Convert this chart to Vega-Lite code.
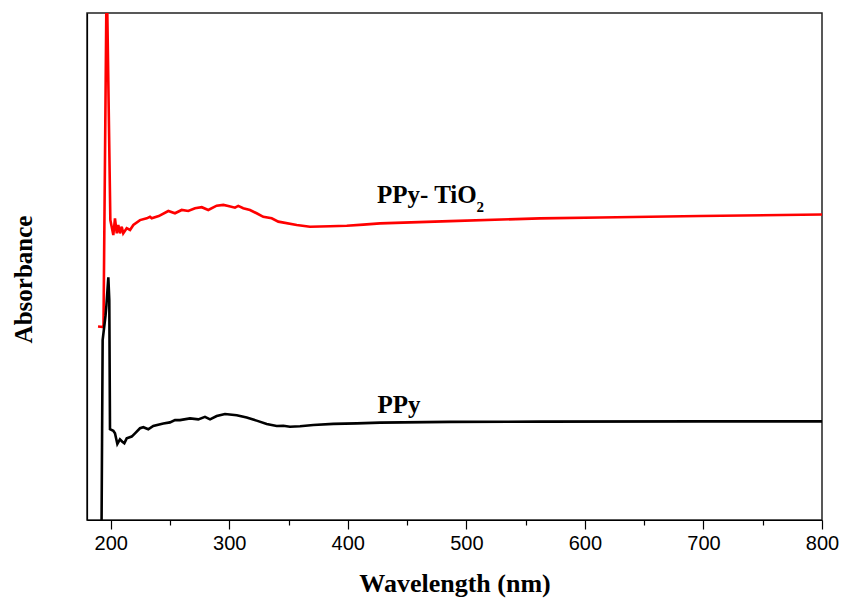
{
  "$schema": "https://vega.github.io/schema/vega-lite/v6.json",
  "width": 735,
  "height": 507,
  "autosize": {"type": "none"},
  "padding": {"left": 87, "top": 13, "right": 22, "bottom": 79},
  "background": "white",
  "config": {
    "view": {"stroke": "#222", "strokeWidth": 1.5},
    "axis": {"domainColor": "#000", "domainWidth": 1.2, "tickColor": "#000", "labelColor": "#000", "titleColor": "#000", "grid": false}
  },
  "datasets": {
    "spectra": [
      {"series": "PPy-TiO2", "wavelength": 189.3, "absorbance": 0.763},
      {"series": "PPy-TiO2", "wavelength": 193.9, "absorbance": 0.761},
      {"series": "PPy-TiO2", "wavelength": 196.6, "absorbance": 2.170},
      {"series": "PPy-TiO2", "wavelength": 199.7, "absorbance": 1.183},
      {"series": "PPy-TiO2", "wavelength": 202.2, "absorbance": 1.124},
      {"series": "PPy-TiO2", "wavelength": 203.6, "absorbance": 1.190},
      {"series": "PPy-TiO2", "wavelength": 205.1, "absorbance": 1.131},
      {"series": "PPy-TiO2", "wavelength": 206.4, "absorbance": 1.164},
      {"series": "PPy-TiO2", "wavelength": 207.8, "absorbance": 1.131},
      {"series": "PPy-TiO2", "wavelength": 209.3, "absorbance": 1.157},
      {"series": "PPy-TiO2", "wavelength": 210.6, "absorbance": 1.131},
      {"series": "PPy-TiO2", "wavelength": 213.5, "absorbance": 1.151},
      {"series": "PPy-TiO2", "wavelength": 216.3, "absorbance": 1.144},
      {"series": "PPy-TiO2", "wavelength": 219.1, "absorbance": 1.164},
      {"series": "PPy-TiO2", "wavelength": 224.7, "absorbance": 1.183},
      {"series": "PPy-TiO2", "wavelength": 230.4, "absorbance": 1.190},
      {"series": "PPy-TiO2", "wavelength": 233.1, "absorbance": 1.196},
      {"series": "PPy-TiO2", "wavelength": 234.6, "absorbance": 1.190},
      {"series": "PPy-TiO2", "wavelength": 240.5, "absorbance": 1.199},
      {"series": "PPy-TiO2", "wavelength": 248.6, "absorbance": 1.219},
      {"series": "PPy-TiO2", "wavelength": 254.2, "absorbance": 1.210},
      {"series": "PPy-TiO2", "wavelength": 259.9, "absorbance": 1.223},
      {"series": "PPy-TiO2", "wavelength": 265.4, "absorbance": 1.219},
      {"series": "PPy-TiO2", "wavelength": 271.1, "absorbance": 1.230},
      {"series": "PPy-TiO2", "wavelength": 276.8, "absorbance": 1.234},
      {"series": "PPy-TiO2", "wavelength": 282.3, "absorbance": 1.223},
      {"series": "PPy-TiO2", "wavelength": 289.4, "absorbance": 1.240},
      {"series": "PPy-TiO2", "wavelength": 295.0, "absorbance": 1.243},
      {"series": "PPy-TiO2", "wavelength": 299.2, "absorbance": 1.239},
      {"series": "PPy-TiO2", "wavelength": 304.8, "absorbance": 1.232},
      {"series": "PPy-TiO2", "wavelength": 307.6, "absorbance": 1.239},
      {"series": "PPy-TiO2", "wavelength": 311.8, "absorbance": 1.230},
      {"series": "PPy-TiO2", "wavelength": 317.5, "absorbance": 1.223},
      {"series": "PPy-TiO2", "wavelength": 323.1, "absorbance": 1.210},
      {"series": "PPy-TiO2", "wavelength": 328.7, "absorbance": 1.196},
      {"series": "PPy-TiO2", "wavelength": 335.8, "absorbance": 1.190},
      {"series": "PPy-TiO2", "wavelength": 341.4, "absorbance": 1.177},
      {"series": "PPy-TiO2", "wavelength": 356.9, "absorbance": 1.164},
      {"series": "PPy-TiO2", "wavelength": 368.1, "absorbance": 1.157},
      {"series": "PPy-TiO2", "wavelength": 385.0, "absorbance": 1.159},
      {"series": "PPy-TiO2", "wavelength": 399.1, "absorbance": 1.161},
      {"series": "PPy-TiO2", "wavelength": 413.1, "absorbance": 1.165},
      {"series": "PPy-TiO2", "wavelength": 427.2, "absorbance": 1.170},
      {"series": "PPy-TiO2", "wavelength": 486.2, "absorbance": 1.179},
      {"series": "PPy-TiO2", "wavelength": 562.1, "absorbance": 1.190},
      {"series": "PPy-TiO2", "wavelength": 612.7, "absorbance": 1.193},
      {"series": "PPy-TiO2", "wavelength": 697.1, "absorbance": 1.199},
      {"series": "PPy-TiO2", "wavelength": 800.0, "absorbance": 1.205},
      {"series": "PPy", "wavelength": 192.2, "absorbance": -0.079},
      {"series": "PPy", "wavelength": 193.2, "absorbance": 0.710},
      {"series": "PPy", "wavelength": 195.6, "absorbance": 0.805},
      {"series": "PPy", "wavelength": 196.4, "absorbance": 0.848},
      {"series": "PPy", "wavelength": 198.0, "absorbance": 0.957},
      {"series": "PPy", "wavelength": 198.8, "absorbance": 0.868},
      {"series": "PPy", "wavelength": 199.4, "absorbance": 0.358},
      {"series": "PPy", "wavelength": 202.2, "absorbance": 0.352},
      {"series": "PPy", "wavelength": 203.6, "absorbance": 0.342},
      {"series": "PPy", "wavelength": 205.6, "absorbance": 0.300},
      {"series": "PPy", "wavelength": 207.8, "absorbance": 0.318},
      {"series": "PPy", "wavelength": 209.8, "absorbance": 0.309},
      {"series": "PPy", "wavelength": 211.5, "absorbance": 0.303},
      {"series": "PPy", "wavelength": 213.5, "absorbance": 0.322},
      {"series": "PPy", "wavelength": 217.7, "absorbance": 0.329},
      {"series": "PPy", "wavelength": 220.5, "absorbance": 0.342},
      {"series": "PPy", "wavelength": 224.7, "absorbance": 0.362},
      {"series": "PPy", "wavelength": 227.5, "absorbance": 0.366},
      {"series": "PPy", "wavelength": 231.7, "absorbance": 0.358},
      {"series": "PPy", "wavelength": 235.9, "absorbance": 0.371},
      {"series": "PPy", "wavelength": 244.4, "absorbance": 0.381},
      {"series": "PPy", "wavelength": 250.0, "absorbance": 0.385},
      {"series": "PPy", "wavelength": 254.2, "absorbance": 0.394},
      {"series": "PPy", "wavelength": 258.4, "absorbance": 0.394},
      {"series": "PPy", "wavelength": 266.9, "absorbance": 0.401},
      {"series": "PPy", "wavelength": 273.9, "absorbance": 0.397},
      {"series": "PPy", "wavelength": 279.5, "absorbance": 0.407},
      {"series": "PPy", "wavelength": 283.8, "absorbance": 0.397},
      {"series": "PPy", "wavelength": 289.4, "absorbance": 0.410},
      {"series": "PPy", "wavelength": 296.4, "absorbance": 0.418},
      {"series": "PPy", "wavelength": 306.3, "absorbance": 0.413},
      {"series": "PPy", "wavelength": 314.7, "absorbance": 0.404},
      {"series": "PPy", "wavelength": 323.1, "absorbance": 0.392},
      {"series": "PPy", "wavelength": 331.6, "absorbance": 0.379},
      {"series": "PPy", "wavelength": 340.0, "absorbance": 0.371},
      {"series": "PPy", "wavelength": 345.6, "absorbance": 0.372},
      {"series": "PPy", "wavelength": 351.2, "absorbance": 0.368},
      {"series": "PPy", "wavelength": 359.7, "absorbance": 0.370},
      {"series": "PPy", "wavelength": 370.9, "absorbance": 0.375},
      {"series": "PPy", "wavelength": 387.8, "absorbance": 0.379},
      {"series": "PPy", "wavelength": 407.5, "absorbance": 0.381},
      {"series": "PPy", "wavelength": 427.2, "absorbance": 0.384},
      {"series": "PPy", "wavelength": 486.2, "absorbance": 0.387},
      {"series": "PPy", "wavelength": 562.1, "absorbance": 0.388},
      {"series": "PPy", "wavelength": 697.1, "absorbance": 0.389},
      {"series": "PPy", "wavelength": 800.0, "absorbance": 0.389}
    ],
    "labels": [
      {"wavelength": 424.6, "absorbance": 1.252, "text": "PPy- TiO"},
      {"wavelength": 425.0, "absorbance": 0.423, "text": "PPy"}
    ],
    "subs": [
      {"wavelength": 508.6, "absorbance": 1.216, "text": "2"}
    ]
  },
  "layer": [
    {
      "data": {"name": "spectra"},
      "mark": {"type": "line", "clip": true, "strokeWidth": 2.6, "interpolate": "linear"},
      "encoding": {
        "x": {
          "field": "wavelength", "type": "quantitative",
          "scale": {"domain": [180, 800], "nice": false, "zero": false},
          "axis": {
            "title": "Wavelength (nm)",
            "values": [200, 250, 300, 350, 400, 450, 500, 550, 600, 650, 700, 750, 800],
            "labelExpr": "datum.value % 100 === 0 ? datum.label : ''",
            "tickSize": {"condition": {"test": "datum.value % 100 === 0", "value": 9}, "value": 5},
            "tickWidth": 1.2,
            "labelFont": "Liberation Sans",
            "labelFontSize": 20,
            "labelPadding": 4,
            "labelFlush": false,
            "labelOverlap": false,
            "titleFont": "Liberation Serif",
            "titleFontWeight": "bold",
            "titleFontSize": 26,
            "titlePadding": 17
          }
        },
        "y": {
          "field": "absorbance", "type": "quantitative",
          "scale": {"domain": [0, 2], "nice": false, "zero": false},
          "axis": {
            "title": "Absorbance",
            "ticks": false,
            "labels": false,
            "titleFont": "Liberation Serif",
            "titleFontWeight": "bold",
            "titleFontSize": 25,
            "titleX": -64,
            "titleY": 266,
            "titleBaseline": "middle"
          }
        },
        "color": {
          "field": "series", "type": "nominal",
          "scale": {"domain": ["PPy", "PPy-TiO2"], "range": ["#000000", "#ff0000"]},
          "legend": null
        }
      }
    },
    {
      "data": {"name": "labels"},
      "mark": {"type": "text", "align": "left", "baseline": "alphabetic", "font": "Liberation Serif", "fontWeight": "bold", "fontSize": 25, "color": "#000"},
      "encoding": {
        "x": {"field": "wavelength", "type": "quantitative"},
        "y": {"field": "absorbance", "type": "quantitative"},
        "text": {"field": "text"}
      }
    },
    {
      "data": {"name": "subs"},
      "mark": {"type": "text", "align": "left", "baseline": "alphabetic", "font": "Liberation Serif", "fontWeight": "bold", "fontSize": 15, "color": "#000"},
      "encoding": {
        "x": {"field": "wavelength", "type": "quantitative"},
        "y": {"field": "absorbance", "type": "quantitative"},
        "text": {"field": "text"}
      }
    }
  ]
}
